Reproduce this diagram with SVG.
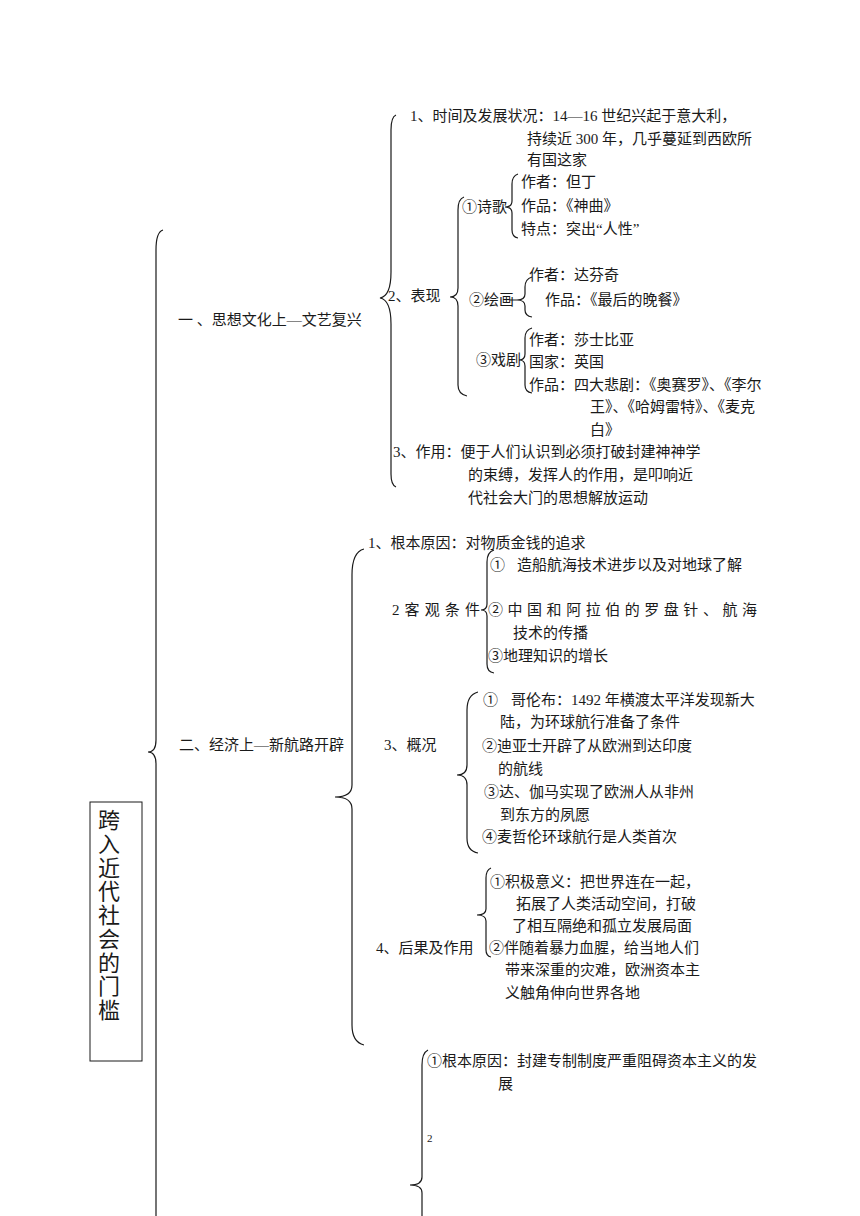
<svg xmlns="http://www.w3.org/2000/svg" width="860" height="1216" viewBox="0 0 860 1216">
<style>
text{font-family:"Liberation Serif","Noto Sans CJK SC",serif;font-size:15px;fill:#1a1a1a}
.br{fill:none;stroke:#1a1a1a;stroke-width:1.2}
.title{font-size:22px}
.small{font-size:11px}
</style>
<rect width="860" height="1216" fill="#fff"/>
<g id="connectors">
<!-- main left brace -->
<path class="br" d="M163,230 Q156,232 156,250 L156,740 Q156,752 148,752 Q156,752 156,764 L156,1216"/>
<!-- section 1 brace -->
<path class="br" d="M396,115 Q391,117 391,130 L391,272 Q391,296 380,298 Q391,300 391,324 L391,474 Q391,485 396,487"/>
<!-- 表现 brace -->
<path class="br" d="M464,197 Q458,199 458,210 L458,288 Q458,297 450,297 Q458,297 458,306 L458,385 Q458,394 467,396"/>
<!-- 诗歌 brace -->
<path class="br" d="M518,174 Q512,176 512,184 L512,201 Q512,207 505,207 Q512,207 512,213 L512,230 Q512,237 518,238"/>
<!-- 绘画 brace -->
<path class="br" d="M532,277 Q525,279 525,287 L525,294 Q525,300 517,300 L510,300 M517,300 Q525,300 525,306 L525,310 Q525,316 532,317"/>
<!-- 戏剧 brace -->
<path class="br" d="M532,328 Q525,330 525,338 L525,354 Q525,360 519,360 Q525,360 525,366 L525,385 Q525,392 532,393"/>
<!-- section 2 brace -->
<path class="br" d="M364,549 Q352,552 352,575 L352,785 Q352,797 335,797 Q352,797 352,809 L352,1025 Q352,1042 364,1045"/>
<!-- 客观条件 brace -->
<path class="br" d="M494,550 Q487,552 487,562 L487,604 Q487,610 481,610 Q487,610 487,616 L487,664 Q487,672 494,673"/>
<!-- 概况 brace -->
<path class="br" d="M478,692 Q467,695 467,710 L467,765 Q467,775 457,775 Q467,775 467,785 L467,838 Q467,851 478,853"/>
<!-- 后果 brace -->
<path class="br" d="M491,868 Q486,870 486,878 L486,909 Q486,915 477,915 Q486,915 486,921 L486,950 Q486,956 491,957"/>
<!-- section 3 brace -->
<path class="br" d="M428,1050 Q422,1053 422,1065 L422,1177 Q422,1185 410,1185 Q422,1185 422,1193 L422,1216"/>
</g>
<g id="root">
<rect x="90" y="802" width="52" height="259" fill="none" stroke="#1a1a1a" stroke-width="1"/>
<text class="title" text-anchor="middle" x="109" y="828">跨</text>
<text class="title" text-anchor="middle" x="109" y="852">入</text>
<text class="title" text-anchor="middle" x="109" y="876">近</text>
<text class="title" text-anchor="middle" x="109" y="899">代</text>
<text class="title" text-anchor="middle" x="109" y="923">社</text>
<text class="title" text-anchor="middle" x="109" y="947">会</text>
<text class="title" text-anchor="middle" x="109" y="971">的</text>
<text class="title" text-anchor="middle" x="109" y="994">门</text>
<text class="title" text-anchor="middle" x="109" y="1018">槛</text>
</g>
<g id="sec1">
<text x="178" y="325">一 、思想文化上—文艺复兴</text>
</g>
<g id="sec1-time">
<text x="410" y="121">1、时间及发展状况：14—16 世纪兴起于意大利，</text>
<text x="527" y="144">持续近 300 年，几乎蔓延到西欧所</text>
<text x="527" y="165">有国这家</text>
</g>
<g id="sec1-biaoxian">
<text x="388" y="301">2、表现</text>
</g>
<g id="poetry">
<text x="462" y="212">①诗歌</text>
<text x="521" y="187">作者：但丁</text>
<text x="521" y="211">作品：《神曲》</text>
<text x="521" y="234">特点：突出“人性”</text>
</g>
<g id="painting">
<text x="469" y="305">②绘画</text>
<text x="529" y="280">作者：达芬奇</text>
<text x="545" y="305">作品：《最后的晚餐》</text>
</g>
<g id="drama">
<text x="476" y="365">③戏剧</text>
<text x="529" y="345">作者：莎士比亚</text>
<text x="529" y="367">国家：英国</text>
<text x="529" y="390">作品：四大悲剧：《奥赛罗》、《李尔</text>
<text x="590" y="412">王》、《哈姆雷特》、《麦克</text>
<text x="590" y="435">白》</text>
</g>
<g id="sec1-effect">
<text x="393" y="457">3、作用：便于人们认识到必须打破封建神神学</text>
<text x="468" y="480">的束缚，发挥人的作用，是叩响近</text>
<text x="468" y="503">代社会大门的思想解放运动</text>
</g>
<g id="sec2">
<text x="179" y="750">二、经济上—新航路开辟</text>
</g>
<g id="sec2-cause">
<text x="368" y="548">1、根本原因：对物质金钱的追求</text>
</g>
<g id="sec2-cond">
<text x="392" y="615" textLength="88" lengthAdjust="spacing">2 客 观 条 件</text>
<text x="490" y="570">①</text>
<text x="517" y="570">造船航海技术进步以及对地球了解</text>
<text x="488" y="615" textLength="269" lengthAdjust="spacing">② 中 国 和 阿 拉 伯 的 罗 盘 针 、 航 海</text>
<text x="513" y="638">技术的传播</text>
<text x="488" y="661">③地理知识的增长</text>
</g>
<g id="sec2-overview">
<text x="384" y="750">3、概况</text>
<text x="483" y="705">①</text>
<text x="511" y="705">哥伦布：1492 年横渡太平洋发现新大</text>
<text x="500" y="727">陆，为环球航行准备了条件</text>
<text x="482" y="751">②迪亚士开辟了从欧洲到达印度</text>
<text x="498" y="774">的航线</text>
<text x="484" y="797">③达、伽马实现了欧洲人从非州</text>
<text x="500" y="820">到东方的夙愿</text>
<text x="482" y="842">④麦哲伦环球航行是人类首次</text>
</g>
<g id="sec2-result">
<text x="376" y="953">4、后果及作用</text>
<text x="490" y="887">①积极意义：把世界连在一起，</text>
<text x="516" y="909">拓展了人类活动空间，打破</text>
<text x="512" y="931">了相互隔绝和孤立发展局面</text>
<text x="489" y="953">②伴随着暴力血腥，给当地人们</text>
<text x="505" y="975">带来深重的灾难，欧洲资本主</text>
<text x="505" y="998">义触角伸向世界各地</text>
</g>
<g id="sec3">
<text x="427" y="1066">①根本原因：封建专制制度严重阻碍资本主义的发</text>
<text x="498" y="1089">展</text>
<text class="small" x="427" y="1142">2</text>
</g>
</svg>
